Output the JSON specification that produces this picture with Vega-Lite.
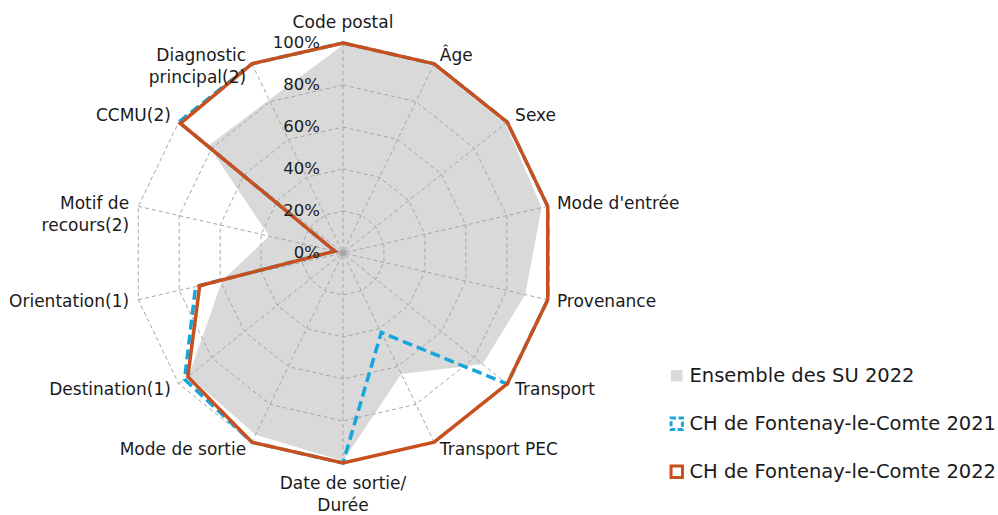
{
  "$schema": "https://vega.github.io/schema/vega-lite/v6.json",
  "width": 998,
  "height": 515,
  "autosize": "none",
  "padding": 0,
  "background": "white",
  "config": {"view": {"stroke": null}, "font": "DejaVu Sans"},
  "data": {"values": [
    {"axe": "Code postal", "Ensemble des SU 2022": 99, "CH de Fontenay-le-Comte 2021": 100, "CH de Fontenay-le-Comte 2022": 100},
    {"axe": "Âge", "Ensemble des SU 2022": 99, "CH de Fontenay-le-Comte 2021": 100, "CH de Fontenay-le-Comte 2022": 100},
    {"axe": "Sexe", "Ensemble des SU 2022": 99, "CH de Fontenay-le-Comte 2021": 100, "CH de Fontenay-le-Comte 2022": 100},
    {"axe": "Mode d'entrée", "Ensemble des SU 2022": 97, "CH de Fontenay-le-Comte 2021": 100, "CH de Fontenay-le-Comte 2022": 100},
    {"axe": "Provenance", "Ensemble des SU 2022": 89, "CH de Fontenay-le-Comte 2021": 100, "CH de Fontenay-le-Comte 2022": 100},
    {"axe": "Transport", "Ensemble des SU 2022": 85, "CH de Fontenay-le-Comte 2021": 100, "CH de Fontenay-le-Comte 2022": 100},
    {"axe": "Transport PEC", "Ensemble des SU 2022": 64, "CH de Fontenay-le-Comte 2021": 42, "CH de Fontenay-le-Comte 2022": 100},
    {"axe": "Date de sortie/\nDurée", "Ensemble des SU 2022": 99, "CH de Fontenay-le-Comte 2021": 100, "CH de Fontenay-le-Comte 2022": 100},
    {"axe": "Mode de sortie", "Ensemble des SU 2022": 96, "CH de Fontenay-le-Comte 2021": 100, "CH de Fontenay-le-Comte 2022": 100},
    {"axe": "Destination(1)", "Ensemble des SU 2022": 94, "CH de Fontenay-le-Comte 2021": 96.5, "CH de Fontenay-le-Comte 2022": 94.5},
    {"axe": "Orientation(1)", "Ensemble des SU 2022": 59, "CH de Fontenay-le-Comte 2021": 72, "CH de Fontenay-le-Comte 2022": 70},
    {"axe": "Motif de\nrecours(2)", "Ensemble des SU 2022": 36, "CH de Fontenay-le-Comte 2021": 4, "CH de Fontenay-le-Comte 2022": 4},
    {"axe": "CCMU(2)", "Ensemble des SU 2022": 82, "CH de Fontenay-le-Comte 2021": 100, "CH de Fontenay-le-Comte 2022": 99},
    {"axe": "Diagnostic\nprincipal(2)", "Ensemble des SU 2022": 81, "CH de Fontenay-le-Comte 2021": 100, "CH de Fontenay-le-Comte 2022": 100}
  ]},
  "transform": [
    {"window": [{"op": "row_number", "as": "idx"}]},
    {"calculate": "(datum.idx - 1) * 2 * PI / 14", "as": "theta"},
    {"calculate": "sin(datum.theta)", "as": "sx"},
    {"calculate": "cos(datum.theta)", "as": "sy"}
  ],
  "layer": [
    {
      "transform": [
        {"fold": ["Ensemble des SU 2022"], "as": ["serie", "v"]},
        {"calculate": "datum.v / 100 * datum.sx", "as": "px"},
        {"calculate": "datum.v / 100 * datum.sy", "as": "py"}
      ],
      "mark": {"type": "line", "interpolate": "linear-closed", "fill": "#d9d9d9", "strokeWidth": 0},
      "encoding": {
        "x": {"field": "px", "type": "quantitative", "scale": {"domain": [-1.6333, 3.119], "nice": false, "zero": false}, "axis": null},
        "y": {"field": "py", "type": "quantitative", "scale": {"domain": [-1.2476, 1.2048], "nice": false, "zero": false}, "axis": null},
        "order": {"field": "idx", "type": "quantitative"}
      }
    },
    {
      "transform": [
        {"fold": ["20", "40", "60", "80", "100"], "as": ["lvl", "dummy"]},
        {"calculate": "toNumber(datum.lvl) / 100", "as": "r"},
        {"calculate": "datum.r * datum.sx", "as": "gx"},
        {"calculate": "datum.r * datum.sy", "as": "gy"}
      ],
      "mark": {"type": "line", "interpolate": "linear-closed", "stroke": "#a6a6a6", "strokeWidth": 1, "strokeDash": [4, 3]},
      "encoding": {
        "x": {"field": "gx", "type": "quantitative"},
        "y": {"field": "gy", "type": "quantitative"},
        "detail": {"field": "lvl", "type": "nominal"},
        "order": {"field": "idx", "type": "quantitative"}
      }
    },
    {
      "mark": {"type": "rule", "stroke": "#a6a6a6", "strokeWidth": 1, "strokeDash": [4, 3]},
      "encoding": {
        "x": {"field": "sx", "type": "quantitative"},
        "y": {"field": "sy", "type": "quantitative"},
        "x2": {"datum": 0},
        "y2": {"datum": 0}
      }
    },
    {
      "transform": [
        {"fold": ["CH de Fontenay-le-Comte 2021"], "as": ["serie", "v"]},
        {"calculate": "datum.v / 100 * datum.sx", "as": "px"},
        {"calculate": "datum.v / 100 * datum.sy", "as": "py"}
      ],
      "mark": {"type": "line", "interpolate": "linear-closed", "stroke": "#16a6dd", "strokeWidth": 3.5, "strokeDash": [10, 5]},
      "encoding": {
        "x": {"field": "px", "type": "quantitative"},
        "y": {"field": "py", "type": "quantitative"},
        "order": {"field": "idx", "type": "quantitative"}
      }
    },
    {
      "transform": [
        {"fold": ["CH de Fontenay-le-Comte 2022"], "as": ["serie", "v"]},
        {"calculate": "datum.v / 100 * datum.sx", "as": "px"},
        {"calculate": "datum.v / 100 * datum.sy", "as": "py"}
      ],
      "mark": {"type": "line", "interpolate": "linear-closed", "stroke": "#c8501e", "strokeWidth": 3.5, "strokeJoin": "miter"},
      "encoding": {
        "x": {"field": "px", "type": "quantitative"},
        "y": {"field": "py", "type": "quantitative"},
        "order": {"field": "idx", "type": "quantitative"}
      }
    },
    {
      "transform": [{"filter": "datum.idx == 1"}],
      "mark": {"type": "point", "filled": true, "color": "#a6a6a6", "size": 45, "opacity": 1},
      "encoding": {
        "x": {"datum": 0},
        "y": {"datum": 0}
      }
    },
    {
      "data": {"values": [
        {"t": 0, "lab": "0%"}, {"t": 0.2, "lab": "20%"}, {"t": 0.4, "lab": "40%"},
        {"t": 0.6, "lab": "60%"}, {"t": 0.8, "lab": "80%"}, {"t": 1, "lab": "100%"}
      ]},
      "mark": {"type": "text", "align": "right", "baseline": "middle", "dx": -23, "fontSize": 16.5, "color": "#1a1a1a"},
      "encoding": {
        "x": {"datum": 0},
        "y": {"field": "t", "type": "quantitative"},
        "text": {"field": "lab"}
      }
    },
    {
      "transform": [
        {"filter": "datum.idx >= 2 && datum.idx <= 7"},
        {"calculate": "datum.sx * 1.03", "as": "lx"},
        {"calculate": "datum.sy * 1.043", "as": "ly"}
      ],
      "mark": {"type": "text", "align": "left", "baseline": "middle", "dx": 3, "fontSize": 17, "color": "#1a1a1a", "lineBreak": "\n", "lineHeight": 22},
      "encoding": {
        "x": {"field": "lx", "type": "quantitative"},
        "y": {"field": "ly", "type": "quantitative"},
        "text": {"field": "axe"}
      }
    },
    {
      "transform": [
        {"filter": "datum.idx >= 9"},
        {"calculate": "datum.sx * 1.03", "as": "lx"},
        {"calculate": "datum.sy * 1.043", "as": "ly"}
      ],
      "mark": {"type": "text", "align": "right", "baseline": "middle", "dx": -3, "fontSize": 17, "color": "#1a1a1a", "lineBreak": "\n", "lineHeight": 22},
      "encoding": {
        "x": {"field": "lx", "type": "quantitative"},
        "y": {"field": "ly", "type": "quantitative"},
        "text": {"field": "axe"}
      }
    },
    {
      "transform": [{"filter": "datum.idx == 1"}],
      "mark": {"type": "text", "align": "center", "baseline": "bottom", "dy": -11, "fontSize": 17, "color": "#1a1a1a"},
      "encoding": {
        "x": {"field": "sx", "type": "quantitative"},
        "y": {"field": "sy", "type": "quantitative"},
        "text": {"field": "axe"}
      }
    },
    {
      "transform": [{"filter": "datum.idx == 8"}],
      "mark": {"type": "text", "align": "center", "baseline": "top", "dy": 13, "fontSize": 17, "color": "#1a1a1a", "lineBreak": "\n", "lineHeight": 22},
      "encoding": {
        "x": {"field": "sx", "type": "quantitative"},
        "y": {"field": "sy", "type": "quantitative"},
        "text": {"field": "axe"}
      }
    },
    {
      "transform": [
        {"filter": "datum.idx == 1"},
        {"fold": ["Ensemble des SU 2022", "CH de Fontenay-le-Comte 2021", "CH de Fontenay-le-Comte 2022"], "as": ["serie", "v"]}
      ],
      "mark": {"type": "point", "shape": "square", "filled": true, "opacity": 0, "size": 140, "strokeWidth": 3},
      "encoding": {
        "x": {"datum": 0},
        "y": {"datum": 0},
        "fill": {"field": "serie", "type": "nominal",
          "scale": {"domain": ["Ensemble des SU 2022", "CH de Fontenay-le-Comte 2021", "CH de Fontenay-le-Comte 2022"], "range": ["#d9d9d9", "white", "white"]},
          "legend": {"orient": "none", "legendX": 667, "legendY": 366, "title": null, "symbolType": "square", "symbolSize": 130, "symbolStrokeWidth": 3, "labelFont": "DejaVu Sans", "labelFontSize": 19.5, "labelColor": "#1a1a1a", "labelLimit": 400, "rowPadding": 24, "labelOffset": 3, "padding": 0,
            "encode": {"symbols": {"update": {
              "fill": {"scale": "fill", "field": "value"},
              "stroke": {"scale": "stroke", "field": "value"},
              "strokeDash": {"scale": "strokeDash", "field": "value"},
              "strokeWidth": {"value": 3},
              "opacity": {"value": 1}
            }}}}},
        "stroke": {"field": "serie", "type": "nominal",
          "scale": {"domain": ["Ensemble des SU 2022", "CH de Fontenay-le-Comte 2021", "CH de Fontenay-le-Comte 2022"], "range": ["transparent", "#16a6dd", "#c8501e"]},
          "legend": null},
        "strokeDash": {"field": "serie", "type": "nominal",
          "scale": {"domain": ["Ensemble des SU 2022", "CH de Fontenay-le-Comte 2021", "CH de Fontenay-le-Comte 2022"], "range": [[1, 0], [5, 2.5], [1, 0]]},
          "legend": null}
      }
    }
  ]
}
